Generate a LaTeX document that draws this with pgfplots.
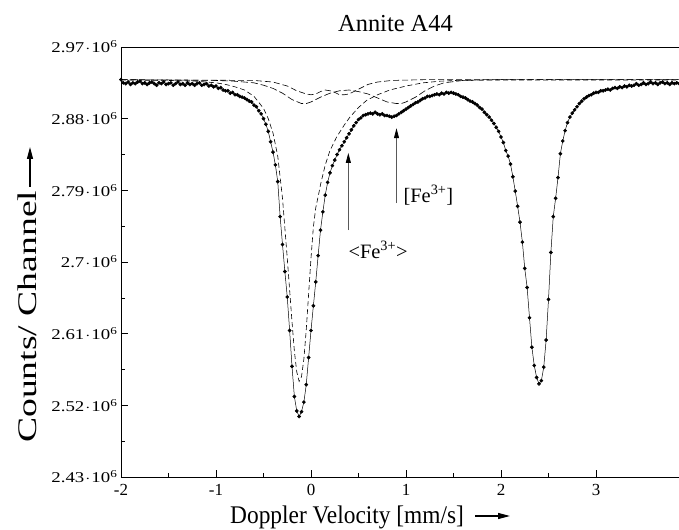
\documentclass[border=0pt]{standalone}
\usepackage{pgfplots}
\pgfplotsset{compat=1.18}
\usepackage{fontspec}
\setmainfont{Liberation Serif}
\usepackage{graphicx}
\usetikzlibrary{arrows.meta}
\newcommand{\yl}[1]{\scalebox{1.26}[1]{#1\kern0.8bp$\cdot$\kern0.8bp10\textsuperscript{6}}}
\begin{document}
\begin{tikzpicture}
\begin{axis}[
  name=ax,
  scale only axis, width=558.6bp, height=430bp,
  xmin=-2, xmax=3.88, ymin=2430, ymax=2970,
  xtick={-2,-1,0,1,2,3}, xticklabels={-2,-1,0,1,2,3},
  ytick={2430,2520,2610,2700,2790,2880,2970},
  yticklabels={\yl{2.43},\yl{2.52},\yl{2.61},\yl{2.7},\yl{2.79},\yl{2.88},\yl{2.97}},
  minor x tick num=1, minor y tick num=1,
  xtick pos=left, ytick pos=left,
  tick align=inside,
  major tick length=7bp, minor tick length=4bp,
  xticklabel style={font=\fontsize{17}{17}\selectfont, yshift=-4bp},
  yticklabel style={font=\fontsize{15}{15}\selectfont},
  axis line style={line width=0.7bp},
  every tick/.style={black, line width=0.6bp},
  clip=false,
]
% Fe2+ component
\addplot[black, line width=0.6bp, dash pattern=on 5bp off 3bp] coordinates {
(-2.0,2928.5)(-1.5,2928)(-1.2,2927)(-1.0,2925)(-0.9,2923)(-0.8,2920)(-0.7,2916)(-0.6,2908)(-0.5,2893)(-0.45,2880)(-0.4,2862)(-0.35,2833)(-0.3,2780)(-0.25,2705)(-0.2,2625)(-0.175,2588)(-0.15,2562)(-0.125,2550)(-0.1,2556)(-0.075,2578)(-0.05,2615)(-0.025,2660)(0.0,2705)(0.025,2744)(0.05,2768)(0.075,2782)(0.1,2797)(0.15,2822)(0.2,2840)(0.27,2857)(0.35,2872)(0.41,2882)(0.5,2894)(0.586,2903)(0.7,2910)(0.83,2916)(1.0,2921)(1.18,2925)(1.35,2927)(1.53,2928)(1.8,2928.5)(3.88,2928.5)
};
% [Fe3+] component
\addplot[black, line width=0.6bp, dash pattern=on 7bp off 3bp] coordinates {
(-2.0,2929)(-1.0,2928)(-0.8,2927)(-0.6,2925)(-0.5,2922)(-0.4,2918)(-0.3,2912)(-0.2,2904)(-0.1,2899)(-0.05,2899)(0.0,2901)(0.1,2907)(0.2,2912)(0.3,2915)(0.4,2916)(0.5,2914)(0.6,2911)(0.7,2906)(0.8,2901)(0.9,2899)(0.95,2899)(1.0,2901)(1.1,2907)(1.2,2915)(1.3,2921)(1.4,2925)(1.6,2928)(2.0,2929)(3.88,2929)
};
% <Fe3+> component
\addplot[black, line width=0.6bp, dash pattern=on 6bp off 3bp] coordinates {
(-2.0,2929)(-0.6,2928)(-0.4,2926)(-0.25,2921)(-0.15,2915)(-0.05,2911)(0.0,2910)(0.05,2911)(0.1,2914)(0.15,2916)(0.2,2915)(0.25,2913)(0.3,2910)(0.35,2910)(0.4,2911)(0.5,2917)(0.6,2923)(0.7,2926)(0.85,2928)(1.2,2929)(3.88,2929)
};
% measured spectrum
\addplot[black, line width=0.5bp, mark=*, mark size=1.6bp, mark options={solid}] coordinates {
(-2.000,2929)(-1.975,2925)(-1.950,2924)(-1.925,2926)(-1.900,2923)(-1.875,2925)(-1.850,2924)(-1.825,2926)(-1.800,2927)(-1.775,2924)
(-1.750,2925)(-1.725,2923)(-1.700,2925)(-1.675,2926)(-1.650,2924)(-1.625,2922)(-1.600,2925)(-1.575,2924)(-1.550,2926)(-1.525,2923)
(-1.500,2924)(-1.475,2925)(-1.450,2922)(-1.425,2924)(-1.400,2926)(-1.375,2923)(-1.350,2924)(-1.325,2922)(-1.300,2925)(-1.275,2923)
(-1.250,2924)(-1.225,2922)(-1.200,2924)(-1.175,2925)(-1.150,2922)(-1.125,2923)(-1.100,2924)(-1.075,2921)(-1.050,2922)(-1.025,2920)
(-1.000,2921)(-0.975,2918)(-0.950,2919)(-0.925,2916)(-0.900,2915)(-0.875,2915)(-0.850,2912)(-0.825,2913)(-0.800,2910)(-0.775,2910)
(-0.750,2908)(-0.725,2907)(-0.700,2906)(-0.675,2904)(-0.650,2902)(-0.625,2901)(-0.600,2897)(-0.575,2895)(-0.550,2890)(-0.525,2886)
(-0.500,2880)(-0.475,2873)(-0.450,2864)(-0.425,2851)(-0.400,2838)(-0.375,2822)(-0.350,2801)(-0.325,2757)(-0.300,2722)(-0.275,2688)
(-0.250,2656)(-0.225,2614)(-0.200,2569)(-0.175,2531)(-0.150,2513)(-0.125,2506)(-0.100,2512)(-0.075,2524)(-0.050,2546)(-0.025,2580)
(0.000,2614)(0.025,2645)(0.050,2675)(0.075,2708)(0.100,2740)(0.125,2763)(0.150,2784)(0.175,2800)(0.200,2812)(0.225,2821)
(0.250,2828)(0.275,2835)(0.300,2841)(0.325,2846)(0.350,2851)(0.375,2856)(0.400,2861)(0.425,2866)(0.450,2871)(0.475,2875)
(0.500,2879)(0.525,2881)(0.550,2884)(0.575,2885)(0.600,2886)(0.625,2887)(0.650,2886)(0.675,2888)(0.700,2886)(0.725,2885)
(0.750,2886)(0.775,2884)(0.800,2884)(0.825,2883)(0.850,2882)(0.875,2883)(0.900,2884)(0.925,2886)(0.950,2888)(0.975,2890)
(1.000,2892)(1.025,2894)(1.050,2896)(1.075,2898)(1.100,2900)(1.125,2901)(1.150,2903)(1.175,2905)(1.200,2906)(1.225,2908)
(1.250,2908)(1.275,2909)(1.300,2910)(1.325,2911)(1.350,2910)(1.375,2912)(1.400,2911)(1.425,2913)(1.450,2912)(1.475,2913)
(1.500,2912)(1.525,2911)(1.550,2910)(1.575,2908)(1.600,2907)(1.625,2906)(1.650,2904)(1.675,2902)(1.700,2901)(1.725,2899)
(1.750,2897)(1.775,2894)(1.800,2892)(1.825,2888)(1.850,2885)(1.875,2882)(1.900,2878)(1.925,2874)(1.950,2869)(1.975,2864)
(2.000,2857)(2.025,2850)(2.050,2840)(2.075,2833)(2.100,2823)(2.125,2807)(2.150,2789)(2.175,2770)(2.200,2750)(2.225,2725)
(2.250,2692)(2.275,2668)(2.300,2630)(2.325,2593)(2.350,2570)(2.375,2555)(2.400,2547)(2.425,2551)(2.450,2568)(2.475,2602)
(2.500,2653)(2.525,2712)(2.550,2757)(2.575,2780)(2.600,2806)(2.625,2836)(2.650,2852)(2.675,2865)(2.700,2875)(2.725,2882)
(2.750,2887)(2.775,2891)(2.800,2895)(2.825,2899)(2.850,2902)(2.875,2905)(2.900,2907)(2.925,2909)(2.950,2910)(2.975,2912)
(3.000,2913)(3.025,2913)(3.050,2915)(3.075,2915)(3.100,2916)(3.125,2917)(3.150,2916)(3.175,2918)(3.200,2919)(3.225,2918)
(3.250,2920)(3.275,2919)(3.300,2921)(3.325,2920)(3.350,2922)(3.375,2921)(3.400,2922)(3.425,2924)(3.450,2922)(3.475,2923)
(3.500,2925)(3.525,2923)(3.550,2924)(3.575,2926)(3.600,2924)(3.625,2925)(3.650,2923)(3.675,2925)(3.700,2926)(3.725,2924)
(3.750,2925)(3.775,2923)(3.800,2925)(3.825,2924)(3.850,2925)(3.875,2924)
};
% annotations
\draw[black!65, line width=0.8bp, -{Triangle[length=10bp,width=5bp,fill=black,color=black]}] (axis cs:0.393,2740) -- (axis cs:0.393,2837);
\draw[black!65, line width=0.8bp, -{Triangle[length=10bp,width=5bp,fill=black,color=black]}] (axis cs:0.90,2774) -- (axis cs:0.90,2868);
\node[anchor=west, inner sep=0, font=\fontsize{20.5}{20.5}\selectfont] at (axis cs:0.393,2715) {<Fe\textsuperscript{3+}>};
\node[anchor=west, inner sep=0, font=\fontsize{20.5}{20.5}\selectfont] at (axis cs:0.972,2784) {[Fe\textsuperscript{3+}]};
\end{axis}
\coordinate (O) at (ax.south west);
\node[anchor=base west, inner sep=0, font=\fontsize{24.5}{24.5}\selectfont] at ([shift={(217bp,445bp)}]O) {Annite A44};
\node[anchor=base west, inner sep=0, font=\fontsize{25.5}{25.5}\selectfont] at ([shift={(109bp,-46bp)}]O) {\scalebox{0.92}[1]{Doppler Velocity [mm/s]}};
\draw[line width=1.3bp, -{Triangle[length=12bp,width=6bp]}] ([shift={(354bp,-39bp)}]O) -- ([shift={(389bp,-39bp)}]O);
\node[rotate=90, anchor=base west, inner sep=0, font=\fontsize{27}{27}\selectfont] at ([shift={(-84bp,34bp)}]O) {\scalebox{1.4}[1]{Counts/ Channel}};
\draw[line width=1.3bp, -{Triangle[length=12bp,width=6bp]}] ([shift={(-91bp,290bp)}]O) -- ([shift={(-91bp,330bp)}]O);
\pgfresetboundingbox
\path[use as bounding box] ([shift={(-121bp,-53bp)}]O) rectangle ([shift={(558bp,477bp)}]O);
\end{tikzpicture}
\end{document}
